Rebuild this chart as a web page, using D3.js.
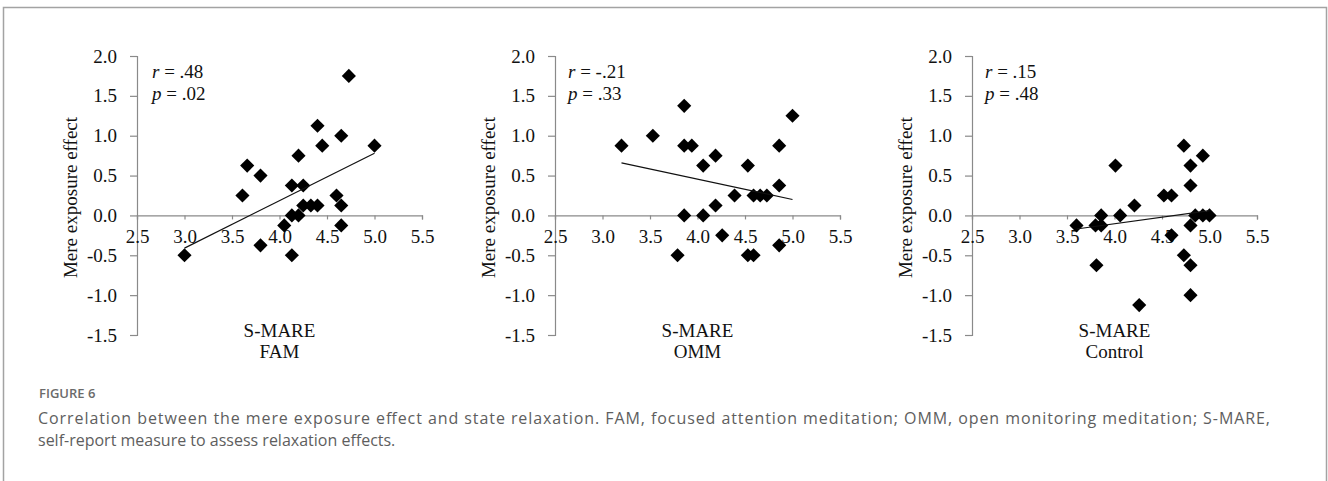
<!DOCTYPE html>
<html>
<head>
<meta charset="utf-8">
<script src="https://cdn.jsdelivr.net/npm/d3@7"></script>
<style>
  body { margin: 0; background: #fff; }
</style>
</head>
<body>
<div id="chart"></div>
<script>
// values
const xTicks = [2.5, 3.0, 3.5, 4.0, 4.5, 5.0, 5.5];
const yTicks = [2.0, 1.5, 1.0, 0.5, 0.0, -0.5, -1.0, -1.5];

const famPoints = [
  [3.00, -0.500], [3.61, 0.250], [3.66, 0.625], [3.80, 0.500], [3.80, -0.375],
  [4.05, -0.125], [4.13, -0.500], [4.13, 0.375], [4.13, 0.000], [4.20, 0.000],
  [4.20, 0.750], [4.25, 0.375], [4.25, 0.125], [4.33, 0.125], [4.40, 0.125],
  [4.40, 1.125], [4.45, 0.875], [4.60, 0.250], [4.65, 0.125], [4.65, -0.125],
  [4.65, 1.000], [4.73, 1.750], [5.00, 0.875]
];
const ommPoints = [
  [3.20, 0.875], [3.53, 1.000], [3.86, 1.375], [3.86, 0.875], [3.94, 0.875],
  [3.86, 0.000], [3.79, -0.500], [4.06, 0.625], [4.06, 0.000], [4.19, 0.750],
  [4.19, 0.125], [4.26, -0.250], [4.39, 0.250], [4.53, 0.625], [4.53, -0.500],
  [4.59, -0.500], [4.59, 0.250], [4.66, 0.250], [4.73, 0.250], [4.86, 0.375],
  [4.86, 0.875], [4.86, -0.375], [5.00, 1.250]
];
const controlPoints = [
  [3.60, -0.125], [3.80, -0.125], [3.86, 0.000], [3.86, -0.125], [3.81, -0.625],
  [4.01, 0.625], [4.06, 0.000], [4.21, 0.125], [4.26, -1.125], [4.52, 0.250],
  [4.60, 0.250], [4.60, -0.250], [4.73, 0.875], [4.73, -0.500], [4.80, 0.625],
  [4.80, 0.375], [4.80, -0.125], [4.80, -0.625], [4.80, -1.000], [4.93, 0.750],
  [4.85, 0.000], [4.93, 0.000], [5.00, 0.000]
];

// linear trend line end points
const famTrend = [[3.0, -0.41], [5.0, 0.78]];
const ommTrend = [[3.2, 0.66], [5.0, 0.20]];
const controlTrend = [[3.6, -0.17], [5.0, 0.06]];

const groupNames = ["FAM", "OMM", "Control"];
const rLabels = [".48", "-.21", ".15"];
const pLabels = [".02", ".33", ".48"];

const captionTitle = "FIGURE 6";
const captionLines = [
  "Correlation between the mere exposure effect and state relaxation. FAM, focused attention meditation; OMM, open monitoring meditation; S-MARE,",
  "self-report measure to assess relaxation effects."
];

const W = 1328, H = 481;
const serif = "'Liberation Serif', 'Times New Roman', serif";
const axisGray = "#8a8a8a";

const svg = d3.select("#chart").append("svg")
  .attr("width", W)
  .attr("height", H);

// figure frame (open at the bottom)
svg.append("path")
  .attr("d", `M3.5,${H + 5}V7.5H1326.5V${H + 5}`)
  .attr("fill", "none")
  .attr("stroke", "#a3a3a3")
  .attr("stroke-width", 1.5);

const panels = [
  { left: 137, points: famPoints, trend: famTrend },
  { left: 555, points: ommPoints, trend: ommTrend },
  { left: 972, points: controlPoints, trend: controlTrend }
];

const plotW = 285, plotTop = 56, plotBottom = 335;
const diamond = d3.symbol().type(d3.symbolSquare).size(100);

panels.forEach((p, i) => {
  const g = svg.append("g").attr("transform", `translate(${p.left},0)`);

  const x = d3.scaleLinear().domain([2.5, 5.5]).range([0, plotW]);
  const y = d3.scaleLinear().domain([-1.5, 2.0]).range([plotBottom, plotTop]);

  // y axis
  const yAxis = g.append("g")
    .call(d3.axisLeft(y)
      .tickValues(yTicks)
      .tickSize(7)
      .tickPadding(13)
      .tickFormat(d => d.toFixed(1)));

  // x axis crossing at 0
  const xAxis = g.append("g")
    .attr("transform", `translate(0,${y(0)})`)
    .call(d3.axisBottom(x)
      .tickValues(xTicks)
      .tickSize(4)
      .tickPadding(10)
      .tickFormat(d => d.toFixed(1)));

  [yAxis, xAxis].forEach(a => {
    a.select(".domain").attr("stroke", axisGray).attr("stroke-width", 1.2);
    a.selectAll(".tick line").attr("stroke", axisGray).attr("stroke-width", 1.2);
    a.selectAll(".tick text")
      .attr("fill", "#111")
      .style("font-family", serif)
      .style("font-size", "19px");
  });

  // axis titles
  g.append("text")
    .attr("transform", `translate(-67,${(plotTop + plotBottom) / 2 + 2}) rotate(-90)`)
    .attr("text-anchor", "middle")
    .attr("dominant-baseline", "central")
    .style("font-family", serif)
    .style("font-size", "19px")
    .attr("fill", "#111")
    .text("Mere exposure effect");

  g.append("text")
    .attr("x", plotW / 2)
    .attr("y", 337)
    .attr("text-anchor", "middle")
    .style("font-family", serif)
    .style("font-size", "19px")
    .attr("fill", "#111")
    .text("S-MARE");

  g.append("text")
    .attr("x", plotW / 2)
    .attr("y", 358)
    .attr("text-anchor", "middle")
    .style("font-family", serif)
    .style("font-size", "19px")
    .attr("fill", "#111")
    .text(groupNames[i]);

  // r and p annotation
  const rt = g.append("text")
    .attr("x", i === 0 ? 15 : 13)
    .attr("y", 78)
    .style("font-family", serif)
    .style("font-size", "19px")
    .attr("fill", "#111");
  rt.append("tspan").style("font-style", "italic").text("r");
  rt.append("tspan").text(" = " + rLabels[i]);

  const pt = g.append("text")
    .attr("x", i === 0 ? 15 : 13)
    .attr("y", 100)
    .style("font-family", serif)
    .style("font-size", "19px")
    .attr("fill", "#111");
  pt.append("tspan").style("font-style", "italic").text("p");
  pt.append("tspan").text(" = " + pLabels[i]);

  // markers
  g.selectAll("path.pt")
    .data(p.points)
    .enter()
    .append("path")
    .attr("class", "pt")
    .attr("d", diamond)
    .attr("transform", d => `translate(${x(d[0])},${y(d[1])}) rotate(45)`)
    .attr("fill", "#000");

  // trend line
  g.append("path")
    .datum(p.trend)
    .attr("d", d3.line().x(d => x(d[0])).y(d => y(d[1])))
    .attr("fill", "none")
    .attr("stroke", "#111")
    .attr("stroke-width", 1.2);
});

// caption
svg.append("text")
  .attr("x", 39)
  .attr("y", 398)
  .style("font-family", "'Open Sans', sans-serif")
  .style("font-size", "13px")
  .style("font-weight", 600)
  .attr("fill", "#6b6b6b")
  .text(captionTitle);

const cap = svg.append("g")
  .style("font-family", "'Open Sans', sans-serif")
  .style("font-size", "16px")
  .attr("fill", "#5e5e5e");

// first line stretched to the width it has in the figure
cap.append("text")
  .attr("x", 38)
  .attr("y", 424)
  .attr("textLength", 1232)
  .attr("lengthAdjust", "spacing")
  .text(captionLines[0]);

cap.append("text")
  .attr("x", 38)
  .attr("y", 446)
  .text(captionLines[1]);
</script>
</body>
</html>
